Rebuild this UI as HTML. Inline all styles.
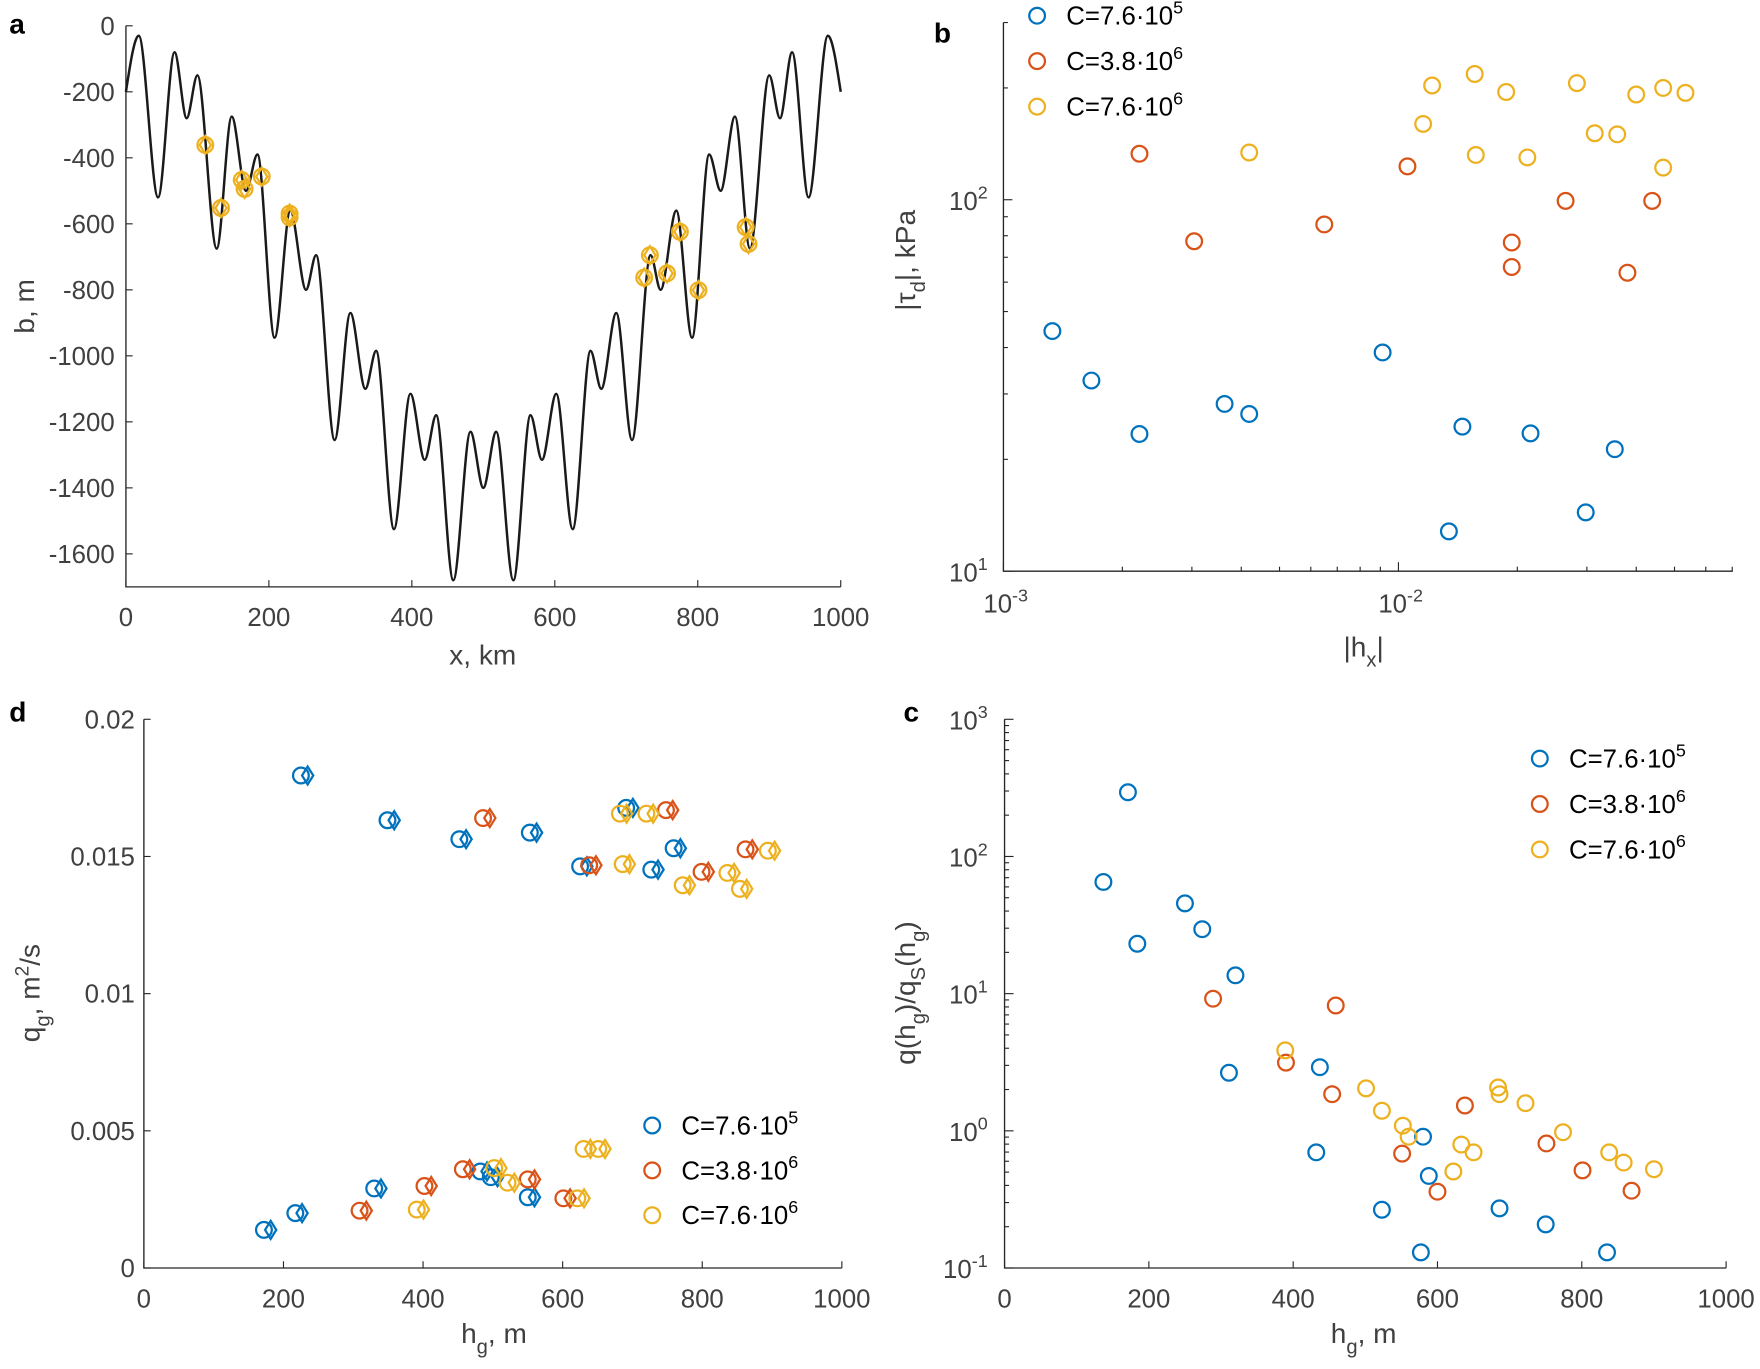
<!DOCTYPE html>
<html><head><meta charset="utf-8"><style>
html,body{margin:0;padding:0;background:#fff;}
svg{display:block;font-family:"Liberation Sans",sans-serif;}
</style></head><body>
<svg id="fig" width="1760" height="1369" viewBox="0 0 1568 1220" xmlns="http://www.w3.org/2000/svg"></svg>
<script>
// ---------- data ----------
// panel a: bed extrema (x km, b m)
const bedX=[0,18,45,68,85,100,127,148,168,184,208,230,252,266,292,314,335,350,375,398,418,434,458,482,500,518,542,566,582,602,625,650,665,686,708,734,748,770,792,816,832,852,873,900,915,932,955,982,1000];
const bedB=[-200,-30,-520,-80,-280,-150,-675,-275,-500,-390,-945,-560,-800,-695,-1255,-870,-1100,-985,-1525,-1115,-1315,-1180,-1680,-1230,-1400,-1230,-1680,-1180,-1315,-1115,-1525,-985,-1100,-870,-1255,-695,-800,-560,-945,-390,-500,-275,-675,-150,-280,-80,-520,-30,-200];
const gateX=[111,133,162,166,190,229,229,733,725,757,775,801,867,871];
const gateB=[-361,-552,-467,-494,-457,-569,-580,-695,-763,-750,-624,-801,-610,-661];
// panel b
const bBlueX=[0.00133,0.00167,0.00221,0.00363,0.00419,0.00912,0.01452,0.0216,0.0353,0.01342,0.0298];
const bBlueY=[44.3,32.6,23.4,28.2,26.5,38.8,24.5,23.5,21.3,12.8,14.4];
const bRedX=[0.00221,0.00304,0.00649,0.01054,0.01936,0.01936,0.0265,0.038,0.0439];
const bRedY=[133,77.3,85.8,123,76.7,65.9,99.3,63.6,99.3];
const bYelX=[0.00419,0.01155,0.01217,0.0156,0.0157,0.01874,0.0212,0.0283,0.0314,0.0358,0.040,0.0468,0.0533,0.0468];
const bYelY=[134,160,203,218,132,195,130,206,151,150,192,200,194,122];
// panel d
const dBlueH=[225,349,452,553,625,691,759,727,172,217,330,482,497,550];
const dBlueQ=[0.01795,0.01632,0.01563,0.01587,0.01464,0.01677,0.01530,0.01452,0.00139,0.00200,0.00290,0.00352,0.00331,0.00258];
const dRedH=[486,638,748,799,862,309,402,457,550,601];
const dRedQ=[0.01640,0.01468,0.01669,0.01444,0.01526,0.00209,0.00299,0.00360,0.00323,0.00254];
const dYelH=[682,720,686,772,836,854,894,391,502,521,630,651,621];
const dYelQ=[0.01656,0.01656,0.01472,0.01395,0.01440,0.01382,0.01521,0.00213,0.00364,0.00311,0.00434,0.00434,0.00254];
// panel c
const cBlueH=[137,171,184,250,274,320,311,437,432,523,577,580,588,686,750,835];
const cBlueQ=[65.2,294,23.1,45.5,29.5,13.6,2.65,2.91,0.697,0.266,0.130,0.906,0.469,0.272,0.208,0.130];
const cRedH=[289,459,390,454,551,600,638,751,801,869];
const cRedQ=[9.19,8.2,3.14,1.85,0.682,0.360,1.53,0.809,0.515,0.366];
const cYelH=[389,501,523,552,560,622,633,650,684,686,722,774,838,858,900];
const cYelQ=[3.86,2.04,1.40,1.09,0.906,0.505,0.794,0.697,2.07,1.85,1.59,0.977,0.697,0.587,0.525];
const linTicksA_X=[0,200,400,600,800,1000];
const linTicksA_Y=[0,-200,-400,-600,-800,-1000,-1200,-1400,-1600];
const linTicksD_Y=[0,0.005,0.01,0.015,0.02];
const legendLabels=[["C=7.6·10","5"],["C=3.8·10","6"],["C=7.6·10","6"]];

const BLUE="#0072BD",RED="#D95319",YEL="#EDB120",AX="#262626",TX="#404040";
const FS=23;
const svg=document.getElementById('fig');
const NS="http://www.w3.org/2000/svg";
function mk(tag,attrs,parent){const e=document.createElementNS(NS,tag);for(const k in attrs)e.setAttribute(k,attrs[k]);(parent||svg).appendChild(e);return e;}
function grp(name){const g=mk('g',{});return g;}
function txt(g,x,y,s,opts){const t=mk('text',Object.assign({x:x,y:y,'font-size':FS,fill:TX},opts||{}),g);t.textContent=s;return t;}
function pow10(g,x,y,base,exp,anchor){const t=mk('text',{x:x,y:y,'font-size':FS,fill:TX,'text-anchor':anchor||'middle'},g);
 const a=mk('tspan',{},t);a.textContent=base;const b=mk('tspan',{dy:-10,'font-size':16},t);b.textContent=exp;return t;}
function lin(d0,d1,p0,p1){return v=>p0+(v-d0)/(d1-d0)*(p1-p0);}
function logs(d0,d1,p0,p1){return v=>p0+(Math.log10(v)-d0)/(d1-d0)*(p1-p0);}
function axesBox(g,L,R,T,B){mk('path',{d:`M${L},${T}V${B}H${R}`,stroke:AX,'stroke-width':1.2,fill:'none'},g);}
function circ(g,x,y,c,name){const e=mk('circle',{cx:x,cy:y,r:7,fill:'none',stroke:c,'stroke-width':2},g);return e;}
function diam(g,x,y,c){const e=mk('path',{d:`M${x},${y-8}L${x+5},${y}L${x},${y+8}L${x-5},${y}Z`,fill:'none',stroke:c,'stroke-width':2},g);return e;}
function legend(g,x,y0,dy,cols){cols.forEach((c,i)=>{circ(g,x,y0+i*dy,c,'legend-marker');const t=pow10(g,x+26,y0+i*dy+8,legendLabels[i][0],legendLabels[i][1],'start');t.setAttribute('fill','#000');});}
function panelLabel(s,x,y){const t=mk('text',{x:x,y:y,'font-size':25,'font-weight':'bold',fill:'#000'});t.textContent=s;}
function ytitle(g,x,y,parts){const t=mk('text',{x:x,y:y,'font-size':25,fill:TX,'text-anchor':'middle',transform:`rotate(-90 ${x} ${y})`},g);
 parts.forEach(p=>{const s=mk('tspan',p[1]?{dy:p[1],'font-size':p[2]||25}:{},t);s.textContent=p[0];});return t;}
function xtitle(g,x,y,parts){const t=mk('text',{x:x,y:y,'font-size':25,fill:TX,'text-anchor':'middle'},g);
 parts.forEach(p=>{const s=mk('tspan',p[1]?{dy:p[1],'font-size':p[2]||25}:{},t);s.textContent=p[0];});return t;}

// ---------- panel a ----------
(function(){
 const g=grp('panel-a');const L=112,R=749,T=23,B=523;
 const X=lin(0,1000,L,R),Y=lin(0,-1700,T,B);
 axesBox(g,L,R,T,B);
 linTicksA_X.forEach(v=>{mk('line',{x1:X(v),x2:X(v),y1:B,y2:B-6,stroke:AX},g);txt(g,X(v),558,String(v),{'text-anchor':'middle'});});
 linTicksA_Y.forEach(v=>{mk('line',{x1:L,x2:L+6,y1:Y(v),y2:Y(v),stroke:AX},g);txt(g,102,Y(v)+8,String(v),{'text-anchor':'end'});});
 xtitle(g,430,592,[["x, km"]]);ytitle(g,30,273,[["b, m"]]);
 let d=`M${X(bedX[0])},${Y(bedB[0])}`;
 for(let i=0;i<bedX.length-1;i++){const x0=X(bedX[i]),x1=X(bedX[i+1]),y0=Y(bedB[i]),y1=Y(bedB[i+1]);const h=(x1-x0)/3;
  let s0=0,s1=0;
  if(i===0)s0=(y1-y0)/(x1-x0)*1.5; if(i===bedX.length-2)s1=(y1-y0)/(x1-x0)*1.5;
  d+=`C${x0+h},${y0+s0*h} ${x1-h},${y1-s1*h} ${x1},${y1}`;}
 const p=mk('path',{d:d,fill:'none',stroke:'#1a1a1a','stroke-width':2.2},g);
 gateX.forEach((v,i)=>{circ(g,X(v),Y(gateB[i]),YEL,'grounding-line-marker');diam(g,X(v),Y(gateB[i]),YEL);});
})();
panelLabel('a',8,30);

// ---------- panel b ----------
(function(){
 const g=grp('panel-b');const L=894,R=1544,T=20,B=509;
 const X=logs(-3,-3+(R-L)/352,L,R),Y=logs(1,1+(B-T)/331,B,T);
 axesBox(g,L,R,T,B);
 [0.001,0.01].forEach((v,i)=>{mk('line',{x1:X(v),x2:X(v),y1:B,y2:B-8,stroke:AX},g);pow10(g,X(v)+2,546,'10',['-3','-2'][i]);});
 [0.002,0.003,0.004,0.005,0.006,0.007,0.008,0.009,0.02,0.03,0.04,0.05,0.06,0.07].forEach(v=>mk('line',{x1:X(v),x2:X(v),y1:B,y2:B-4,stroke:AX},g));
 [10,100].forEach((v,i)=>{mk('line',{x1:L,x2:L+8,y1:Y(v),y2:Y(v),stroke:AX},g);pow10(g,880,Y(v)+9,'10',['1','2'][i],'end');});
 [20,30,40,50,60,70,80,90,200,300].forEach(v=>mk('line',{x1:L,x2:L+4,y1:Y(v),y2:Y(v),stroke:AX},g));
 xtitle(g,1215,585,[["|h"],["x",9,18],["|",-9,25]]);
 ytitle(g,815,232,[["|τ"],["d",9,18],["|, kPa",-9,25]]);
 bBlueX.forEach((v,i)=>circ(g,X(v),Y(bBlueY[i]),BLUE,'point-c1'));
 bRedX.forEach((v,i)=>circ(g,X(v),Y(bRedY[i]),RED,'point-c2'));
 bYelX.forEach((v,i)=>circ(g,X(v),Y(bYelY[i]),YEL,'point-c3'));
 const lg=grp('legend-b');legend(lg,924,14,40.5,[BLUE,RED,YEL]);
})();
panelLabel('b',832,38);

// ---------- panel d ----------
(function(){
 const g=grp('panel-d');const L=128,R=750,T=641,B=1130;
 const X=lin(0,1000,L,R),Y=lin(0,0.02,B,T);
 axesBox(g,L,R,T,B);
 linTicksA_X.forEach(v=>{mk('line',{x1:X(v),x2:X(v),y1:B,y2:B-6,stroke:AX},g);txt(g,X(v),1165,String(v),{'text-anchor':'middle'});});
 linTicksD_Y.forEach(v=>{mk('line',{x1:L,x2:L+6,y1:Y(v),y2:Y(v),stroke:AX},g);txt(g,120,Y(v)+8,String(v),{'text-anchor':'end'});});
 xtitle(g,440,1197,[["h"],["g",9,18],[", m",-9,25]]);
 ytitle(g,35,885,[["q"],["g",9,18],[", m",-9,25],["2",-10,17],["/s",10,25]]);
 [[dBlueH,dBlueQ,BLUE],[dRedH,dRedQ,RED],[dYelH,dYelQ,YEL]].forEach(s=>s[0].forEach((v,i)=>{circ(g,X(v),Y(s[1][i]),s[2],'point');diam(g,X(v)+6,Y(s[1][i]),s[2]);}));
 const lg=grp('legend-d');legend(lg,581,1003,40,[BLUE,RED,YEL]);
})();
panelLabel('d',8,643);

// ---------- panel c ----------
(function(){
 const g=grp('panel-c');const L=895,R=1538,T=641,B=1130;
 const X=lin(0,1000,L,R),Y=logs(-1,3,B,T);
 axesBox(g,L,R,T,B);
 linTicksA_X.forEach(v=>{mk('line',{x1:X(v),x2:X(v),y1:B,y2:B-6,stroke:AX},g);txt(g,X(v),1165,String(v),{'text-anchor':'middle'});});
 [-1,0,1,2,3].forEach(e=>{const v=Math.pow(10,e);mk('line',{x1:L,x2:L+8,y1:Y(v),y2:Y(v),stroke:AX},g);pow10(g,880,Y(v)+9,'10',String(e),'end');
  if(e<3)for(let m=2;m<10;m++)mk('line',{x1:L,x2:L+4,y1:Y(m*v),y2:Y(m*v),stroke:AX},g);});
 xtitle(g,1215,1197,[["h"],["g",9,18],[", m",-9,25]]);
 ytitle(g,815,885,[["q(h"],["g",9,18],[")/q",-9,25],["S",9,18],["(h",-9,25],["g",9,18],[")",-9,25]]);
 cBlueH.forEach((v,i)=>circ(g,X(v),Y(cBlueQ[i]),BLUE,'point-c1'));
 cRedH.forEach((v,i)=>circ(g,X(v),Y(cRedQ[i]),RED,'point-c2'));
 cYelH.forEach((v,i)=>circ(g,X(v),Y(cYelQ[i]),YEL,'point-c3'));
 const lg=grp('legend-c');legend(lg,1372,676,40.5,[BLUE,RED,YEL]);
})();
panelLabel('c',805,643);
</script>
</body></html>
